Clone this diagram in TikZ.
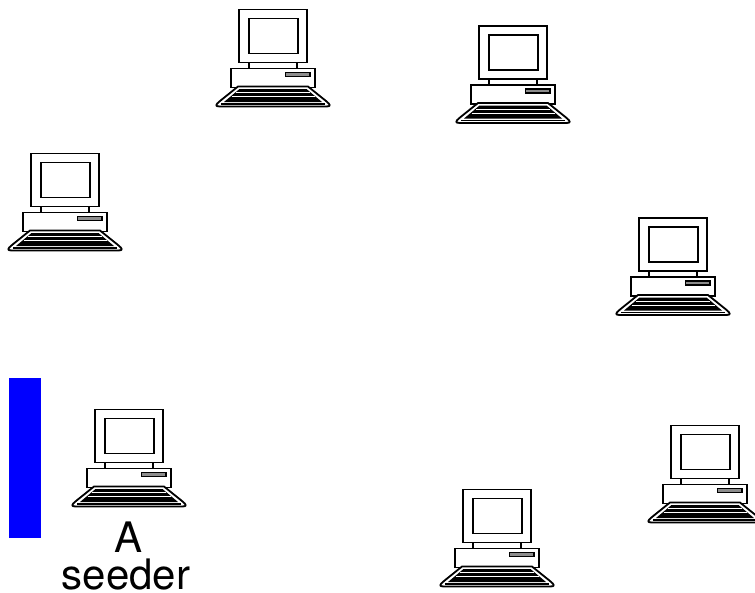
\documentclass[tikz,border=0pt]{standalone}
\usepackage{fontspec}
\setmainfont{TeX Gyre Heros}
\tikzset{
  x=1pt,y=-1pt,
  ln/.style={draw=black,line width=1.6pt,fill=white},
  lbl/.style={inner sep=0pt,font=\fontsize{42}{42}\selectfont,anchor=base},
  pics/computer/.style={code={
    % origin = monitor top-left
    \draw[ln] (10,53) -- (10,59) (58,53) -- (58,59);
    \draw[ln] (0,0) rectangle (68,53);
    \draw[ln] (10,9) rectangle (59,44);
    \draw[ln] (-8,59) rectangle (76,78);
    \draw[draw=black,line width=1.2pt,fill=black!45] (46.5,63) rectangle (71,67);
    \draw[ln,line width=1.8pt,line join=round] (-1,77) -- (69,77) -- (87,91.5) .. controls (92,95.5) and (92,97) .. (87,97) -- (-19,97) .. controls (-24,97) and (-24,95.5) .. (-19,91.5) -- cycle;
    \fill[black] (0.5,79.5) -- (67.5,79.5) -- (83,92.5) -- (-15,92.5) -- cycle;
    \draw[white,line width=0.7pt] (-3,83) -- (71,83) (-7.5,87) -- (75.5,87);
    \draw[black,line width=1.6pt] (-18,94.3) -- (86,94.3);
  }}
}
\begin{document}
\begin{tikzpicture}
\useasboundingbox (0,0) rectangle (755,592);
\fill[blue] (9,378) rectangle (41,538);
\pic at (239,9.5) {computer};
\pic at (479,26) {computer};
\pic at (31,153.5) {computer};
\pic at (639,218) {computer};
\pic at (95,409.5) {computer};
\pic at (671,425.5) {computer};
\pic at (463,489.5) {computer};
\node[lbl] (a) at (129,552) {A};
\node[lbl] (s) at (126,589) {seeder};
\end{tikzpicture}
\end{document}
